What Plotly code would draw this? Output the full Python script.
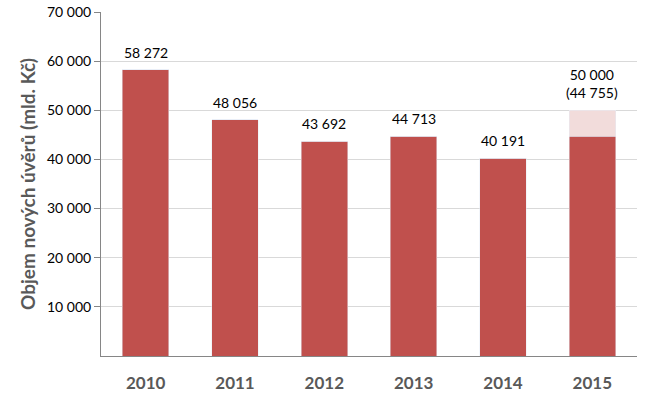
import plotly.graph_objects as go

years = ["2010", "2011", "2012", "2013", "2014", "2015"]
actual = [58272, 48056, 43692, 44713, 40191, 44755]
plan_extra = [0, 0, 0, 0, 0, 50000 - 44755]
label_pos = [58272, 48056, 43692, 44713, 40191, 50000]
labels = ["58 272", "48 056", "43 692", "44 713", "40 191", "50 000<br>(44 755)"]
tick_vals = [10000, 20000, 30000, 40000, 50000, 60000, 70000]
tick_text = ["10 000", "20 000", "30 000", "40 000", "50 000", "60 000", "70 000"]

fig = go.Figure()
fig.add_trace(go.Bar(x=years, y=actual, marker_color="#C0504D", hoverinfo="skip"))
fig.add_trace(go.Bar(x=years, y=plan_extra, marker_color="#F2DCDB", hoverinfo="skip"))

for i, (y, t) in enumerate(zip(label_pos, labels)):
    fig.add_annotation(x=i, y=y, text=t, showarrow=False, yanchor="bottom",
                       yshift=7, font=dict(family="Lato", size=14, color="#000000"))

fig.update_layout(
    width=647, height=395,
    barmode="stack", bargap=0.48,
    showlegend=False,
    plot_bgcolor="white", paper_bgcolor="white",
    margin=dict(l=101, r=10, t=12, b=39),
    font=dict(family="Lato", color="#000000"),
)
fig.update_yaxes(range=[0, 70000], tickvals=tick_vals, ticktext=tick_text,
                 automargin=False,
                 showgrid=True, gridcolor="#D9D9D9", gridwidth=1,
                 showline=True, linecolor="#868686", linewidth=1,
                 ticks="outside", ticklen=6, tickcolor="#868686",
                 tickfont=dict(family="Lato", size=14, color="#000000"),
                 zeroline=False,
                 title=dict(text="<b>Objem nových úvěrů (mld. Kč)</b>",
                            font=dict(family="Lato", size=19, color="#595959"),
                            standoff=6))
fig.update_xaxes(type="category", range=[-0.5, 5.5],
                 showline=True, linecolor="#868686", linewidth=1,
                 automargin=False,
                 ticks="", ticklabelstandoff=12,
                 tickfont=dict(family="Lato", size=17, color="#595959", weight="bold"))

fig.write_html("out.html", config={"displayModeBar": False},
               post_script="document.body.style.margin='0px';")
